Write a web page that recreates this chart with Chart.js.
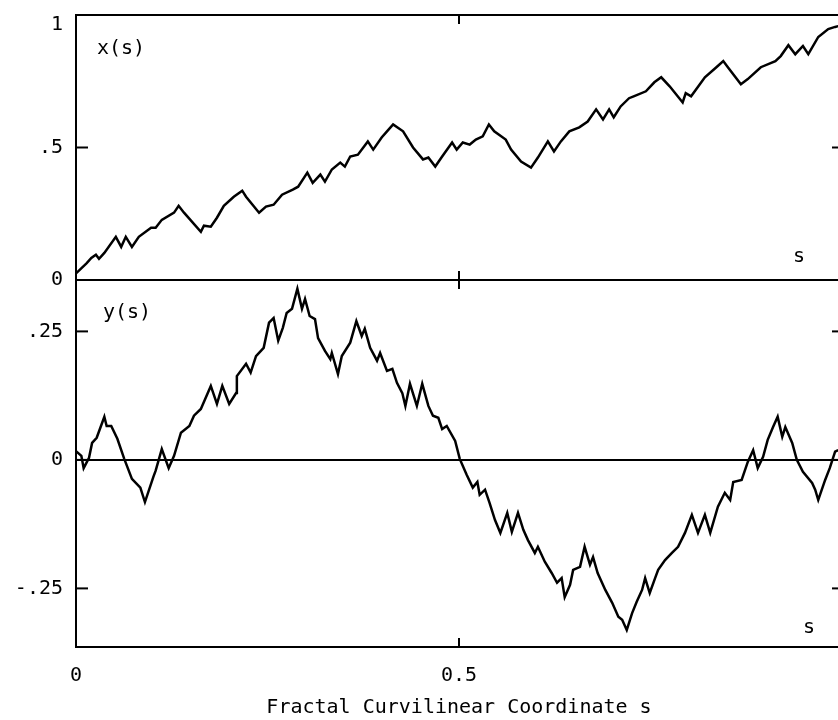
<!DOCTYPE html>
<html>
<head>
<meta charset="utf-8">
<script src="https://cdn.jsdelivr.net/npm/chart.js@4.4.1/dist/chart.umd.min.js"></script>
<style>
  html, body { margin: 0; padding: 0; background: #fff; overflow: hidden; }
  #wrap { position: relative; width: 880px; height: 720px; }
</style>
</head>
<body>
<div id="wrap"><canvas id="chart" width="880" height="720"></canvas></div>
<script>
// top panel: x(s)
const sTop = [0, 0.014, 0.020, 0.026, 0.030, 0.037, 0.052, 0.059, 0.065, 0.073,
  0.082, 0.098, 0.104, 0.112, 0.128, 0.134, 0.141, 0.163, 0.167, 0.176,
  0.184, 0.193, 0.206, 0.217, 0.222, 0.239, 0.248, 0.258, 0.269, 0.283,
  0.290, 0.302, 0.309, 0.319, 0.325, 0.334, 0.345, 0.351, 0.358, 0.368,
  0.381, 0.388, 0.399, 0.406, 0.414, 0.427, 0.440, 0.453, 0.460, 0.469,
  0.478, 0.491, 0.497, 0.505, 0.514, 0.522, 0.531, 0.539, 0.546, 0.561,
  0.568, 0.581, 0.594, 0.603, 0.616, 0.624, 0.633, 0.644, 0.657, 0.668,
  0.679, 0.688, 0.696, 0.702, 0.711, 0.722, 0.728, 0.744, 0.755, 0.764,
  0.775, 0.792, 0.796, 0.803, 0.821, 0.836, 0.845, 0.851, 0.868, 0.877,
  0.894, 0.913, 0.920, 0.930, 0.939, 0.949, 0.956, 0.969, 0.982, 0.991, 0.995];
const xOfS = [0.025, 0.064, 0.083, 0.095, 0.080, 0.102, 0.163, 0.125, 0.163, 0.125,
  0.163, 0.197, 0.197, 0.227, 0.254, 0.280, 0.254, 0.182, 0.205, 0.201,
  0.235, 0.280, 0.314, 0.337, 0.314, 0.254, 0.277, 0.284, 0.322, 0.341,
  0.352, 0.405, 0.367, 0.398, 0.371, 0.417, 0.443, 0.428, 0.466, 0.473,
  0.523, 0.492, 0.538, 0.561, 0.587, 0.561, 0.500, 0.455, 0.462, 0.428,
  0.466, 0.519, 0.492, 0.519, 0.511, 0.530, 0.542, 0.587, 0.561, 0.530,
  0.492, 0.447, 0.424, 0.462, 0.523, 0.485, 0.523, 0.561, 0.576, 0.598,
  0.644, 0.606, 0.644, 0.614, 0.655, 0.686, 0.693, 0.712, 0.746, 0.765,
  0.731, 0.670, 0.705, 0.693, 0.765, 0.803, 0.826, 0.803, 0.739, 0.758,
  0.803, 0.826, 0.845, 0.886, 0.852, 0.883, 0.852, 0.917, 0.947, 0.955, 0.958];

// bottom panel: y(s)
const sBot = [0, 0.007, 0.010, 0.017, 0.021, 0.027, 0.037, 0.040, 0.046, 0.054,
  0.063, 0.073, 0.084, 0.090, 0.101, 0.104, 0.112, 0.121, 0.128, 0.137,
  0.148, 0.154, 0.163, 0.176, 0.184, 0.191, 0.200, 0.209, 0.210, 0.222,
  0.228, 0.235, 0.245, 0.252, 0.258, 0.264, 0.270, 0.275, 0.282, 0.289,
  0.295, 0.299, 0.305, 0.312, 0.316, 0.325, 0.332, 0.334, 0.342, 0.347,
  0.358, 0.366, 0.373, 0.377, 0.384, 0.393, 0.397, 0.406, 0.413, 0.419,
  0.426, 0.430, 0.436, 0.445, 0.452, 0.460, 0.466, 0.473, 0.478, 0.484,
  0.495, 0.501, 0.510, 0.518, 0.524, 0.527, 0.534, 0.540, 0.547, 0.554,
  0.563, 0.569, 0.577, 0.584, 0.590, 0.599, 0.603, 0.612, 0.621, 0.628,
  0.634, 0.638, 0.645, 0.649, 0.658, 0.664, 0.671, 0.675, 0.681, 0.691,
  0.700, 0.708, 0.713, 0.719, 0.726, 0.732, 0.739, 0.743, 0.749, 0.756,
  0.760, 0.769, 0.778, 0.786, 0.795, 0.804, 0.812, 0.821, 0.828, 0.838,
  0.847, 0.854, 0.858, 0.869, 0.877, 0.884, 0.890, 0.897, 0.903, 0.910,
  0.916, 0.922, 0.926, 0.935, 0.941, 0.949, 0.961, 0.965, 0.969, 0.978,
  0.984, 0.991, 0.995];
const yOfS = [0.017, 0.008, -0.016, 0.004, 0.033, 0.043, 0.084, 0.066, 0.066, 0.041,
  0.002, -0.037, -0.054, -0.082, -0.033, -0.021, 0.021, -0.016, 0.008, 0.053,
  0.066, 0.086, 0.099, 0.144, 0.109, 0.144, 0.109, 0.130, 0.163, 0.187,
  0.170, 0.202, 0.218, 0.267, 0.276, 0.232, 0.257, 0.286, 0.294, 0.333,
  0.294, 0.313, 0.280, 0.274, 0.237, 0.212, 0.196, 0.208, 0.167, 0.202,
  0.228, 0.270, 0.241, 0.255, 0.218, 0.193, 0.208, 0.173, 0.177, 0.150,
  0.130, 0.105, 0.148, 0.105, 0.148, 0.105, 0.086, 0.082, 0.060, 0.066,
  0.037, 0.002, -0.029, -0.054, -0.043, -0.068, -0.058, -0.084, -0.117, -0.142,
  -0.103, -0.140, -0.103, -0.136, -0.156, -0.181, -0.169, -0.198, -0.220, -0.239,
  -0.230, -0.267, -0.243, -0.214, -0.208, -0.169, -0.204, -0.189, -0.220, -0.253,
  -0.278, -0.305, -0.311, -0.331, -0.298, -0.276, -0.253, -0.230, -0.259, -0.230,
  -0.214, -0.195, -0.181, -0.169, -0.142, -0.107, -0.142, -0.107, -0.142, -0.091,
  -0.064, -0.078, -0.043, -0.039, -0.004, 0.019, -0.016, 0.006, 0.039, 0.064,
  0.084, 0.045, 0.064, 0.033, 0.000, -0.023, -0.045, -0.058, -0.078, -0.039,
  -0.016, 0.016, 0.019];

// ticks
const sTicks = [0, 0.5, 1];
const sTickLabels = ['0', '0.5', '1'];
const xTicks = [0, 0.5, 1];
const xTickLabels = ['0', '.5', '1'];
const yTicks = [-0.25, 0, 0.25];
const yTickLabels = ['-.25', '0', '.25'];

const FONT = '"DejaVu Sans Mono", monospace';
const tickFont = { family: FONT, size: 20, lineHeight: 1 };

function line(ctx, x1, y1, x2, y2) {
    ctx.beginPath();
    ctx.moveTo(x1, y1);
    ctx.lineTo(x2, y2);
    ctx.stroke();
}

// y axes: fixed width, no extra room for the end labels
function fitY(s) {
    s.width = 76;
    s.paddingTop = 0;
    s.paddingBottom = 0;
}

// frame round each panel, inward ticks, panel captions
const framePlugin = {
    id: 'frame',
    afterDatasetsDraw(chart) {
        const { ctx, scales } = chart;
        const xs = scales.x;
        ctx.save();
        ctx.strokeStyle = '#000';
        ctx.lineWidth = 2;
        [scales.yTop, scales.yBot].forEach(ys => {
            ctx.strokeRect(xs.left, ys.top, xs.right - xs.left, ys.bottom - ys.top);
            ys.ticks.forEach(t => {
                const py = ys.getPixelForValue(t.value);
                if (py <= ys.top + 1 || py >= ys.bottom - 1) return;
                line(ctx, xs.left, py, xs.left + 12, py);
                line(ctx, xs.right - 10, py, xs.right, py);
            });
            xs.ticks.forEach(t => {
                const px = xs.getPixelForValue(t.value);
                if (px <= xs.left + 1 || px >= xs.right - 1) return;
                line(ctx, px, ys.top, px, ys.top + 9);
                line(ctx, px, ys.bottom - 9, px, ys.bottom);
            });
        });

        ctx.fillStyle = '#000';
        ctx.font = '20px ' + FONT;
        ctx.textBaseline = 'middle';
        ctx.textAlign = 'left';
        ctx.fillText('x(s)', xs.left + 21, scales.yTop.top + 34);
        ctx.fillText('y(s)', xs.left + 27, scales.yBot.top + 33);
        ctx.textAlign = 'center';
        ctx.fillText('s', xs.left + 723, scales.yTop.bottom - 23);
        ctx.fillText('s', xs.left + 733, scales.yBot.bottom - 19);
        ctx.restore();
    }
};

const lineStyle = {
    borderColor: '#000',
    borderWidth: 2.5,
    pointRadius: 0,
    tension: 0,
    fill: false
};

const ctx = document.getElementById('chart').getContext('2d');
new Chart(ctx, {
    type: 'line',
    data: {
        datasets: [
            Object.assign({
                label: 'x(s)',
                data: sTop.map((s, i) => ({ x: s, y: xOfS[i] })),
                xAxisID: 'x',
                yAxisID: 'yTop'
            }, lineStyle),
            Object.assign({
                label: 'y(s)',
                data: sBot.map((s, i) => ({ x: s, y: yOfS[i] })),
                xAxisID: 'x',
                yAxisID: 'yBot'
            }, lineStyle)
        ]
    },
    options: {
        responsive: false,
        animation: false,
        layout: { padding: { top: 15, right: 38, left: 0, bottom: 0 } },
        plugins: {
            legend: { display: false },
            tooltip: { enabled: false }
        },
        scales: {
            x: {
                type: 'linear',
                position: 'bottom',
                min: 0,
                max: 1,
                grid: { display: false, drawTicks: false },
                border: { display: false },
                afterBuildTicks: s => { s.ticks = sTicks.map(v => ({ value: v })); },
                afterFit: s => { s.height = 73; },
                ticks: {
                    font: tickFont,
                    color: '#000',
                    padding: 19,
                    maxRotation: 0,
                    autoSkip: false,
                    callback: (v, i) => sTickLabels[i]
                },
                title: {
                    display: true,
                    text: 'Fractal Curvilinear Coordinate s',
                    font: { family: FONT, size: 20, lineHeight: 1.2 },
                    color: '#000',
                    padding: 0
                }
            },
            yBot: {
                type: 'linear',
                position: 'left',
                stack: 'panels',
                stackWeight: 367,
                min: -0.364,
                max: 0.35,
                grid: {
                    drawTicks: false,
                    lineWidth: 2,
                    color: c => (c.tick && c.tick.value === 0) ? '#000' : 'rgba(0,0,0,0)'
                },
                border: { display: false },
                afterBuildTicks: s => { s.ticks = yTicks.map(v => ({ value: v })); },
                afterFit: fitY,
                ticks: {
                    font: tickFont,
                    color: '#000',
                    padding: 13,
                    callback: (v, i) => yTickLabels[i]
                }
            },
            yTop: {
                type: 'linear',
                position: 'left',
                stack: 'panels',
                stackWeight: 265,
                min: 0,
                max: 1,
                grid: { display: false, drawTicks: false },
                border: { display: false },
                afterBuildTicks: s => { s.ticks = xTicks.map(v => ({ value: v })); },
                afterFit: fitY,
                ticks: {
                    font: tickFont,
                    color: '#000',
                    padding: 13,
                    // the top label sits just under the frame corner
                    callback: (v, i) => v === 1 ? ['', xTickLabels[i]] : xTickLabels[i]
                }
            }
        }
    },
    plugins: [framePlugin]
});
</script>
</body>
</html>
